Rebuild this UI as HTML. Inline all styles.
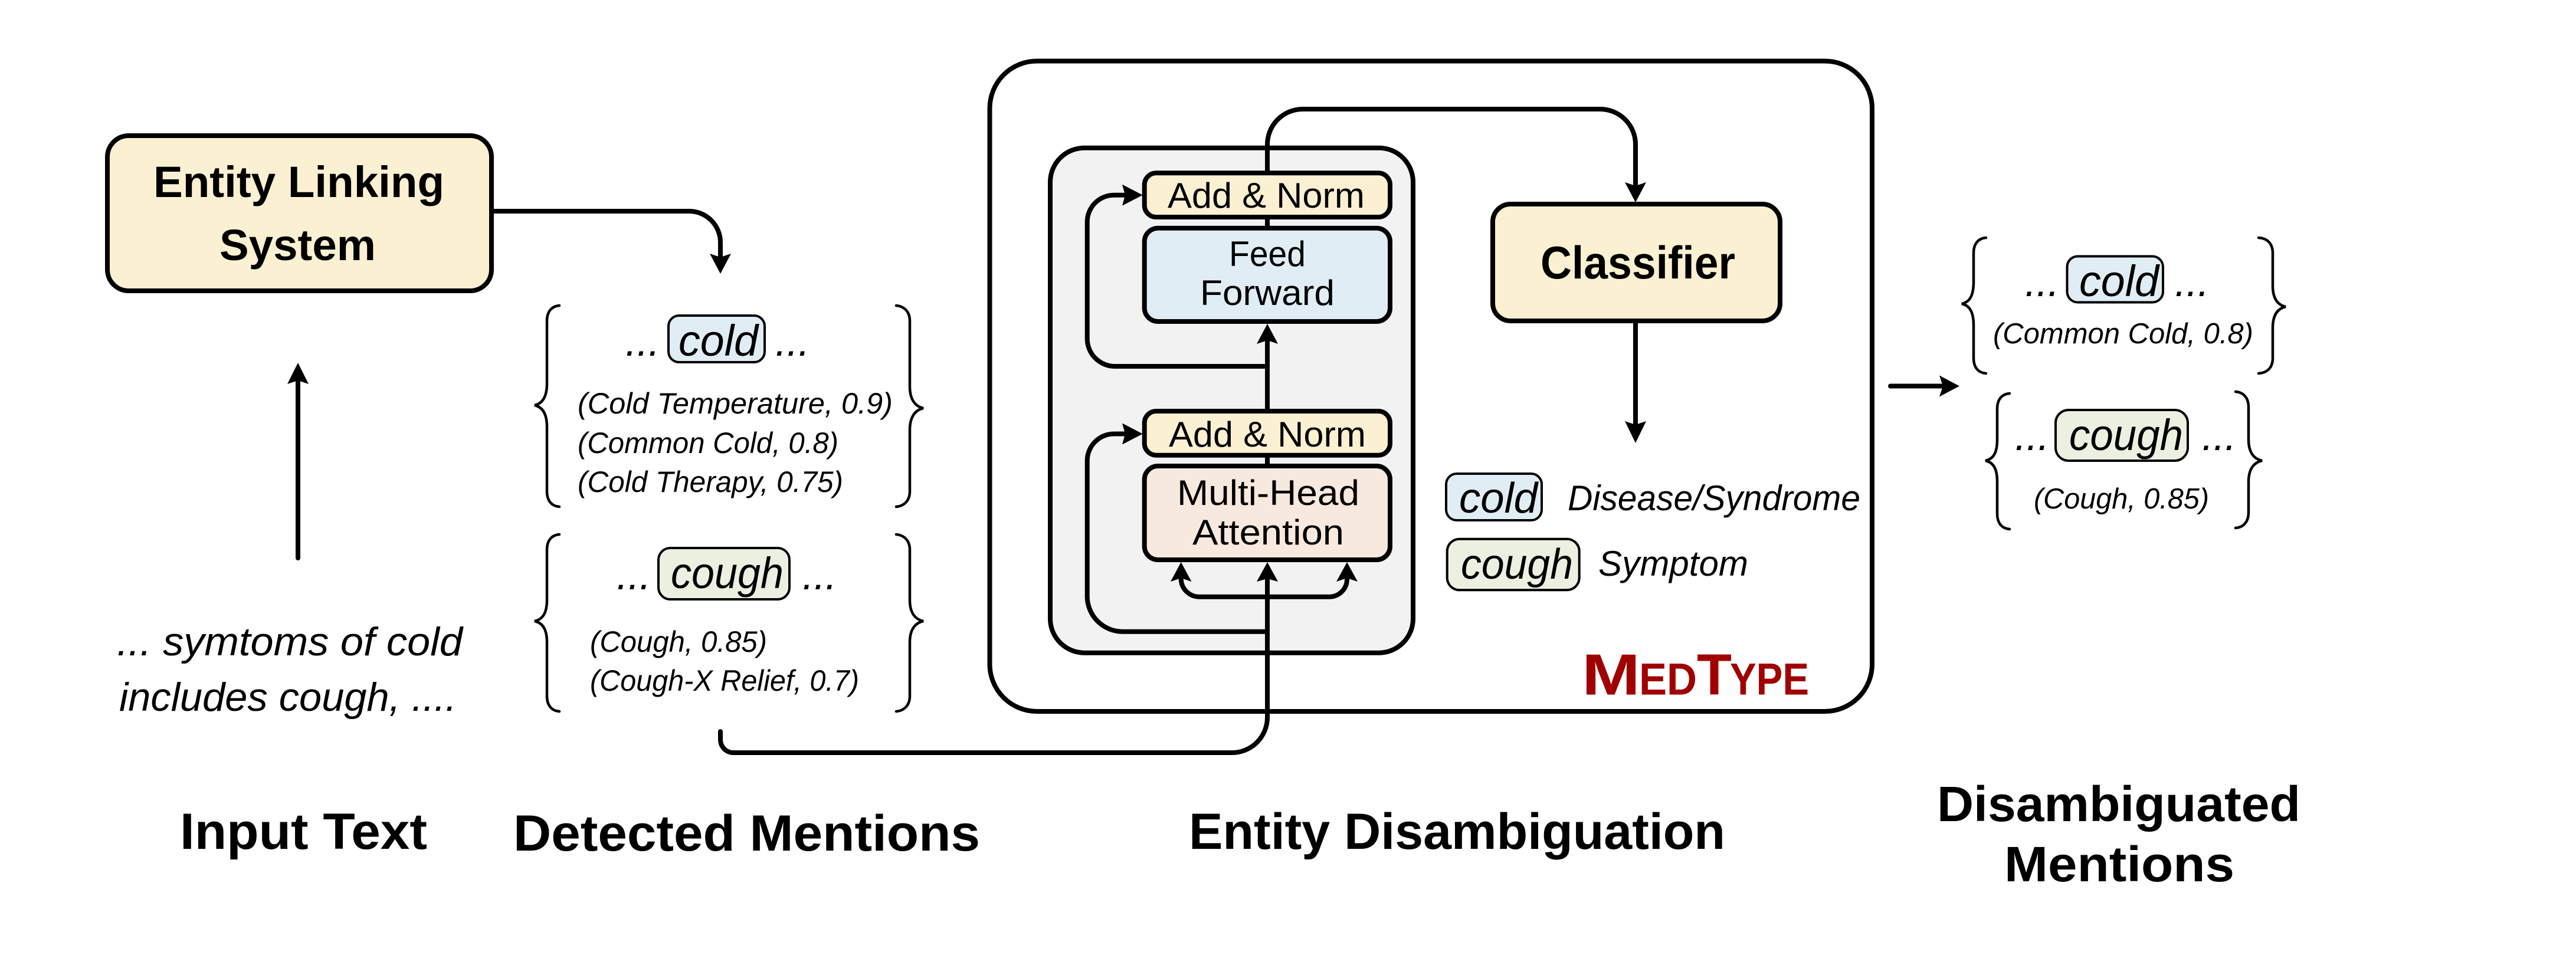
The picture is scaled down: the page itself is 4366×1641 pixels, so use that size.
<!DOCTYPE html>
<html><head><meta charset="utf-8">
<style>
html,body{margin:0;padding:0;background:#fff;width:4366px;height:1641px;overflow:hidden}
svg{display:block}
text{font-family:"Liberation Sans",sans-serif;fill:#000}
.b{font-weight:bold}
.i{font-style:italic}
.r{fill:#A00000;font-weight:bold}
.ln{fill:none;stroke:#000;stroke-width:8;stroke-linecap:round;stroke-linejoin:round}
.br{fill:none;stroke:#000;stroke-width:4.5;stroke-linecap:round}
.box{stroke:#000;stroke-width:8}
.sm{stroke:#000;stroke-width:4}
</style></head><body>
<svg width="4366" height="1641" viewBox="0 0 4366 1641" xmlns="http://www.w3.org/2000/svg">
<rect width="4366" height="1641" fill="#fff"/>

<!-- Entity linking -->
<rect class="box" x="182" y="230" width="651" height="263" rx="36" fill="#FBF0D2"/>
<text class="b" x="260" y="334" font-size="74" textLength="493" lengthAdjust="spacingAndGlyphs">Entity Linking</text>
<text class="b" x="372" y="441" font-size="74" textLength="265" lengthAdjust="spacingAndGlyphs">System</text>
<path class="ln" d="M833 358H1168A53 53 0 0 1 1221 411V436"/>
<path d="M1221 464L1203 430L1221 436L1239 430Z"/>
<path class="ln" d="M505 946V645"/>
<path d="M505 615L487 651L505 645L523 651Z"/>
<text class="i" x="198" y="1111" font-size="68" textLength="586" lengthAdjust="spacingAndGlyphs">... symtoms of cold</text>
<text class="i" x="202" y="1205" font-size="68" textLength="572" lengthAdjust="spacingAndGlyphs">includes cough, ....</text>

<!-- detected braces -->
<path class="br" d="M948 518C935 519 927 528 927 544V650C927 672 920 684 906 687C920 690 927 702 927 724V833C927 849 935 858 948 859"/>
<path class="br" d="M1519 518C1532 519 1542 528 1542 544V655C1542 677 1551 689 1565 692C1551 695 1542 707 1542 729V833C1542 849 1532 858 1519 859"/>
<path class="br" d="M948 906C935 907 927 916 927 932V1017C927 1039 920 1050 906 1053C920 1056 927 1067 927 1089V1180C927 1196 935 1205 948 1206"/>
<path class="br" d="M1519 906C1532 907 1542 916 1542 932V1017C1542 1039 1551 1050 1565 1053C1551 1056 1542 1067 1542 1089V1180C1542 1196 1532 1205 1519 1206"/>

<text class="i" x="1060" y="603" font-size="70">...</text>
<rect class="sm" x="1133" y="535" width="163" height="79" rx="18" fill="#E0EDF4"/>
<text class="i" x="1150" y="603" font-size="74" textLength="135" lengthAdjust="spacingAndGlyphs">cold</text>
<text class="i" x="1314" y="603" font-size="70">...</text>
<text class="i" x="979" y="701" font-size="50" textLength="534" lengthAdjust="spacingAndGlyphs">(Cold Temperature, 0.9)</text>
<text class="i" x="979" y="768" font-size="50" textLength="442" lengthAdjust="spacingAndGlyphs">(Common Cold, 0.8)</text>
<text class="i" x="979" y="834" font-size="50" textLength="450" lengthAdjust="spacingAndGlyphs">(Cold Therapy, 0.75)</text>

<text class="i" x="1045" y="999" font-size="70">...</text>
<rect class="sm" x="1116" y="929" width="222" height="87" rx="20" fill="#EBF0E0"/>
<text class="i" x="1137" y="997" font-size="74" textLength="191" lengthAdjust="spacingAndGlyphs">cough</text>
<text class="i" x="1360" y="999" font-size="70">...</text>
<text class="i" x="1000" y="1105" font-size="50" textLength="300" lengthAdjust="spacingAndGlyphs">(Cough, 0.85)</text>
<text class="i" x="1000" y="1171" font-size="50" textLength="456" lengthAdjust="spacingAndGlyphs">(Cough-X Relief, 0.7)</text>

<!-- MedType -->
<rect class="box" x="1677.5" y="103.5" width="1495.5" height="1102.5" rx="80" fill="#fff"/>
<rect class="box" x="1780" y="250.7" width="615" height="856" rx="58" fill="#F2F2F2"/>

<!-- Connector from mentions and to classifier -->
<path class="ln" d="M1221 1240V1254A22 22 0 0 0 1243 1276H2088A60 60 0 0 0 2148 1216V975"/>
<path class="ln" d="M2148 293V245A60 60 0 0 1 2208 185H2712A60 60 0 0 1 2772 245V316"/>
<path d="M2772 343L2754 309L2772 315L2790 309Z"/>

<!-- Residuals -->
<path class="ln" d="M2148 621H1889A47 47 0 0 1 1842.7 574V376A45.500 45.500 0 0 1 1888 330.700H1910"/>
<path d="M1936.700 330.700L1902 312.700L1907 330.700L1902 348.700Z"/>
<path class="ln" d="M2148 1070.700H1902A60 60 0 0 1 1842.700 1011V781A45.500 45.500 0 0 1 1888 735.500H1910"/>
<path d="M1936.700 735.500L1902 717.500L1907 735.500L1902 753.500Z"/>
<path class="ln" d="M2148 697V575"/>
<path d="M2148 549L2130 583L2148 577L2166 583Z"/>
<path d="M2148 953L2130 986L2148 981L2166 986Z"/>
<path class="ln" d="M2001.700 980A31 31 0 0 0 2032.700 1011.700H2253A30 30 0 0 0 2283 981"/>
<path d="M2001.700 953L1984 986L2001.700 980L2019.500 986Z"/>
<path d="M2283 953L2265 986L2283 980L2301 986Z"/>
<path class="ln" d="M2148 369V386M2148 773V790"/>

<!-- Blocks -->
<rect class="box" x="1939.700" y="293.300" width="416.300" height="74.700" rx="20" fill="#FBF0D2"/>
<rect class="box" x="1939.700" y="386.700" width="416.300" height="158.300" rx="23" fill="#E0EDF4"/>
<rect class="box" x="1939.700" y="697" width="416.300" height="74.700" rx="20" fill="#FBF0D2"/>
<rect class="box" x="1939.700" y="790" width="416.300" height="159" rx="23" fill="#F7E9DD"/>
<text x="1979" y="352" font-size="60" textLength="334" lengthAdjust="spacingAndGlyphs">Add &amp; Norm</text>
<text x="1981" y="757" font-size="60" textLength="334" lengthAdjust="spacingAndGlyphs">Add &amp; Norm</text>
<text x="2083" y="451" font-size="60" textLength="130" lengthAdjust="spacingAndGlyphs">Feed</text>
<text x="2034" y="517" font-size="60" textLength="228" lengthAdjust="spacingAndGlyphs">Forward</text>
<text x="1995" y="856" font-size="60" textLength="309" lengthAdjust="spacingAndGlyphs">Multi-Head</text>
<text x="2021" y="923" font-size="60" textLength="257" lengthAdjust="spacingAndGlyphs">Attention</text>

<!-- Classifier -->
<rect class="box" x="2530" y="346" width="487" height="198" rx="30" fill="#FBF0D2"/>
<text class="b" x="2611" y="472" font-size="78" textLength="330" lengthAdjust="spacingAndGlyphs">Classifier</text>
<path class="ln" d="M2772 544V720"/>
<path d="M2772 751L2754 714L2772 720L2790 714Z"/>

<!-- Legend -->
<rect class="sm" x="2451" y="803" width="162" height="79" rx="18" fill="#E0EDF4"/>
<text class="i" x="2473" y="869" font-size="72" textLength="133" lengthAdjust="spacingAndGlyphs">cold</text>
<rect class="sm" x="2452.700" y="913.700" width="224" height="86.600" rx="21" fill="#EBF0E0"/>
<text class="i" x="2476" y="981" font-size="72" textLength="190" lengthAdjust="spacingAndGlyphs">cough</text>
<text class="i" x="2657" y="865" font-size="60" textLength="496" lengthAdjust="spacingAndGlyphs">Disease/Syndrome</text>
<text class="i" x="2709" y="976" font-size="60" textLength="254" lengthAdjust="spacingAndGlyphs">Symptom</text>

<!-- MedType label -->
<text class="r" x="2681" y="1177.500" font-size="98" textLength="99" lengthAdjust="spacingAndGlyphs">M</text>
<text class="r" x="2778" y="1177.500" font-size="76" textLength="98" lengthAdjust="spacingAndGlyphs">ED</text>
<text class="r" x="2876" y="1177.500" font-size="98" textLength="59" lengthAdjust="spacingAndGlyphs">T</text>
<text class="r" x="2932" y="1177.500" font-size="76" textLength="134" lengthAdjust="spacingAndGlyphs">YPE</text>

<!-- Output arrow -->
<path class="ln" d="M3204 654.500H3295"/>
<path d="M3321 654.500L3287 636.500L3293 654.500L3287 672.500Z"/>

<!-- Right braces -->
<path class="br" d="M3366 403C3353 404 3345 413 3345 429V478C3345 500 3339 512 3325 515C3339 518 3345 530 3345 552V607C3345 623 3353 632 3366 633"/>
<path class="br" d="M3828 403C3843 404 3852 413 3852 429V484C3852 506 3860 517 3874 520C3860 523 3852 534 3852 556V607C3852 623 3843 632 3828 633"/>
<path class="br" d="M3406 667C3393 668 3385 677 3385 693V745C3385 767 3379 778 3365 781C3379 784 3385 795 3385 817V871C3385 887 3393 896 3406 897"/>
<path class="br" d="M3789 664C3802 665 3811 674 3811 690V745C3811 767 3820 778 3834 781C3820 784 3811 795 3811 817V869C3811 885 3802 894 3789 895"/>

<text class="i" x="3432" y="502" font-size="70">...</text>
<rect class="sm" x="3503.500" y="434.500" width="162.500" height="78" rx="18" fill="#E0EDF4"/>
<text class="i" x="3524" y="502" font-size="74" textLength="135" lengthAdjust="spacingAndGlyphs">cold</text>
<text class="i" x="3686" y="502" font-size="70">...</text>
<text class="i" x="3378" y="582" font-size="49" textLength="441" lengthAdjust="spacingAndGlyphs">(Common Cold, 0.8)</text>

<text class="i" x="3415" y="763" font-size="70">...</text>
<rect class="sm" x="3484" y="695" width="224" height="86" rx="22" fill="#EBF0E0"/>
<text class="i" x="3507" y="763" font-size="74" textLength="193" lengthAdjust="spacingAndGlyphs">cough</text>
<text class="i" x="3732" y="763" font-size="70">...</text>
<text class="i" x="3447" y="862" font-size="49" textLength="297" lengthAdjust="spacingAndGlyphs">(Cough, 0.85)</text>

<!-- Titles -->
<text class="b" x="305" y="1439" font-size="86" textLength="419" lengthAdjust="spacingAndGlyphs">Input Text</text>
<text class="b" x="870" y="1442" font-size="86" textLength="791" lengthAdjust="spacingAndGlyphs">Detected Mentions</text>
<text class="b" x="2015" y="1439" font-size="86" textLength="909" lengthAdjust="spacingAndGlyphs">Entity Disambiguation</text>
<text class="b" x="3283" y="1392" font-size="84" textLength="616" lengthAdjust="spacingAndGlyphs">Disambiguated</text>
<text class="b" x="3397" y="1494" font-size="84" textLength="390" lengthAdjust="spacingAndGlyphs">Mentions</text>
</svg>
</body></html>
